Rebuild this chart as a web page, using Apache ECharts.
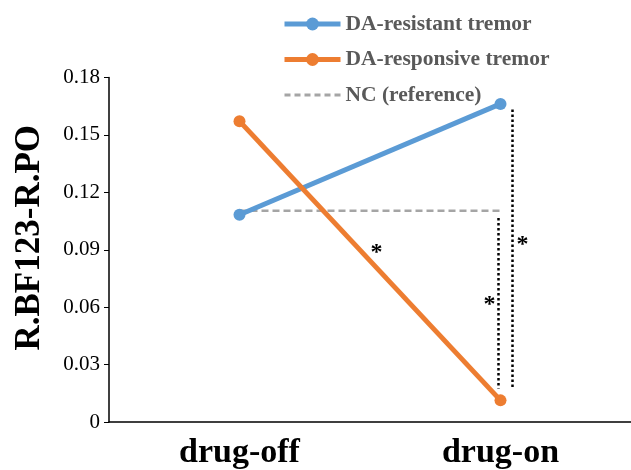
<!DOCTYPE html>
<html>
<head>
<meta charset="utf-8">
<script src="https://cdn.jsdelivr.net/npm/echarts@6/dist/echarts.min.js"></script>
<style>
  html, body { margin: 0; padding: 0; background: #fff; }
  #chart { width: 631px; height: 470px; }
</style>
</head>
<body>
<div id="chart"></div>
<script>
var categories = ['drug-off', 'drug-on'];
var resistant = [0.1083, 0.1662];
var responsive = [0.1572, 0.0113];
var ncReference = [0.1104, 0.1104];
var yTicks = { min: 0, max: 0.18, interval: 0.03 };

// significance brackets: [category index, pixel offset, y from, y to]
var sigLines = [[1, -2, 0.1066, 0.0175], [1, 12, 0.1633, 0.0175]];
// asterisks: [category position (0..1), pixel offset, y value]
var stars = [[0.525, 0, 0.0886], [1, 22, 0.0927], [1, -11, 0.0613]];

var serif = 'Liberation Serif';
var chart = echarts.init(document.getElementById('chart'));

chart.setOption({
    animation: false,
    grid: { left: 109, top: 77.5, right: 0, bottom: 43 },
    legend: {
        orient: 'vertical',
        left: 282,
        top: 13,
        padding: 0,
        itemWidth: 56,
        itemHeight: 16,
        itemGap: 13.5,
        lineStyle: { width: 5 },
        data: [
            { name: 'DA-resistant tremor' },
            { name: 'DA-responsive tremor' },
            { name: 'NC (reference)', itemStyle: { opacity: 0 }, lineStyle: { width: 3, type: [6, 4] } }
        ],
        textStyle: { fontFamily: serif, fontWeight: 'bold', fontSize: 21.5, color: '#595959' }
    },
    xAxis: {
        type: 'category',
        data: categories,
        axisLine: { lineStyle: { color: '#000', width: 1.5 } },
        axisTick: { show: false },
        axisLabel: { fontFamily: serif, fontWeight: 'bold', fontSize: 34, color: '#000', margin: 14 }
    },
    yAxis: {
        type: 'value',
        min: yTicks.min,
        max: yTicks.max,
        interval: yTicks.interval,
        name: 'R.BF123-R.PO',
        nameLocation: 'middle',
        nameGap: 62,
        nameTextStyle: {
            fontFamily: serif, fontWeight: 'bold', fontSize: 35, color: '#000',
            padding: [0, 0, 0, 24]
        },
        axisLine: { show: true, lineStyle: { color: '#000', width: 1.5 } },
        axisTick: { show: true, length: 5, lineStyle: { color: '#000' } },
        splitLine: { show: false },
        axisLabel: {
            fontFamily: serif, fontSize: 21, color: '#000', margin: 9,
            formatter: function (v) { return v === 0 ? '0' : v.toFixed(2); }
        }
    },
    series: [{
        name: 'DA-resistant tremor',
        type: 'line',
        data: resistant,
        z: 3,
        symbol: 'circle',
        symbolSize: 12,
        color: '#5B9BD5',
        lineStyle: { width: 5 }
    }, {
        name: 'DA-responsive tremor',
        type: 'line',
        data: responsive,
        z: 4,
        symbol: 'circle',
        symbolSize: 12,
        color: '#ED7D31',
        lineStyle: { width: 5 }
    }, {
        name: 'NC (reference)',
        type: 'line',
        data: ncReference,
        z: 2,
        symbol: 'none',
        color: '#A5A5A5',
        lineStyle: { width: 2.5, type: [7, 4] }
    }]
});

function px(catPos, value) {
    var a = chart.convertToPixel({ xAxisIndex: 0, yAxisIndex: 0 }, [0, value]);
    var b = chart.convertToPixel({ xAxisIndex: 0, yAxisIndex: 0 }, [1, value]);
    return [a[0] + (b[0] - a[0]) * catPos, a[1]];
}

var graphics = [];
sigLines.forEach(function (s) {
    var p1 = px(s[0], s[2]), p2 = px(s[0], s[3]);
    graphics.push({
        type: 'line',
        z: 10,
        shape: { x1: p1[0] + s[1], y1: p1[1], x2: p2[0] + s[1], y2: p2[1] },
        style: { stroke: '#000', lineWidth: 2.5, lineDash: [2.5, 2.5] }
    });
});
stars.forEach(function (s) {
    var p = px(s[0], s[2]);
    graphics.push({
        type: 'text',
        z: 10,
        x: p[0] + s[1],
        y: p[1],
        style: {
            text: '*', fontFamily: serif, fontWeight: 'bold', fontSize: 24, fill: '#000',
            align: 'center', verticalAlign: 'middle'
        }
    });
});
chart.setOption({ graphic: graphics });
</script>
</body>
</html>
